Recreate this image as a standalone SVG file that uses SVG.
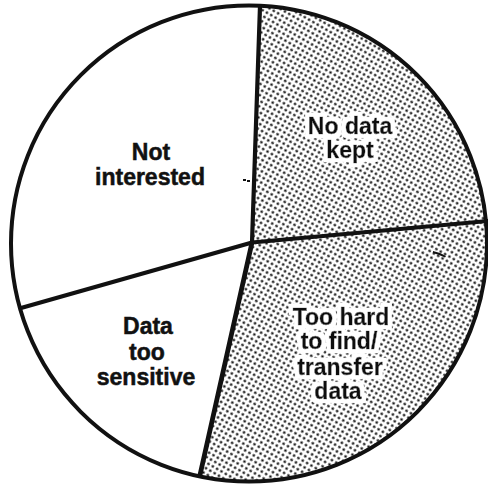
<svg xmlns="http://www.w3.org/2000/svg" width="488" height="485" viewBox="0 0 488 485">
  <defs>
    <pattern id="dots" width="5" height="5" patternUnits="userSpaceOnUse" patternTransform="rotate(30)">
      <rect width="5" height="5" fill="#fff"/>
      <circle cx="2.5" cy="2.5" r="1.3" fill="#111"/>
    </pattern>
    <filter id="halo" x="-15%" y="-40%" width="130%" height="180%">
      <feMorphology in="SourceAlpha" operator="dilate" radius="3.5" result="d"/>
      <feFlood flood-color="#fff"/>
      <feComposite in2="d" operator="in" result="w"/>
      <feMerge><feMergeNode in="w"/><feMergeNode in="SourceGraphic"/></feMerge>
    </filter>
    <style>
      .lbl { font-family: "Liberation Sans", Arial, sans-serif; font-weight: bold; font-size: 23px; fill: #111; text-anchor: middle; stroke: #111; stroke-width: 0.5; }
      .knock { filter: url(#halo); }
      .div { stroke: #111; stroke-width: 4.2; stroke-linecap: round; fill: none; }
      .rim { stroke: #111; stroke-width: 4; fill: none; }
    </style>
  </defs>
  <rect width="488" height="485" fill="#fff"/>

  <g id="slice-not-interested">
    <path d="M252,242.5 L20,308 A238,238 0 0,1 260,6 Z" fill="#fff"/>
    <text class="lbl" x="151" y="160">Not</text>
    <text class="lbl" x="150" y="185">interested</text>
  </g>

  <g id="slice-no-data-kept">
    <path d="M252,242.5 L260,6 A238,238 0 0,1 486,221 Z" fill="url(#dots)"/>
    <g class="knock">
      <text class="lbl" x="350" y="134">No data</text>
      <text class="lbl" x="350" y="158">kept</text>
    </g>
  </g>

  <g id="slice-too-hard">
    <path d="M252,242.5 L486,221 A238,238 0 0,1 200,476 Z" fill="url(#dots)"/>
    <g class="knock">
      <text class="lbl" x="341" y="325">Too hard</text>
      <text class="lbl" x="339" y="349">to find/</text>
      <text class="lbl" x="340" y="375">transfer</text>
      <text class="lbl" x="338" y="399">data</text>
    </g>
  </g>

  <g id="slice-data-too-sensitive">
    <path d="M252,242.5 L200,476 A238,238 0 0,1 20,308 Z" fill="#fff"/>
    <text class="lbl" x="148" y="334">Data</text>
    <text class="lbl" x="147" y="360">too</text>
    <text class="lbl" x="146" y="385">sensitive</text>
  </g>

  <g id="connectors">
    <line class="div" x1="252" y1="242.5" x2="260" y2="6"/>
    <line class="div" x1="252" y1="242.5" x2="488" y2="221"/>
    <line class="div" x1="252" y1="242.5" x2="21" y2="308"/>
    <line class="div" x1="252" y1="242.5" x2="200" y2="475" style="stroke-width:4.8"/>
    <circle class="rim" cx="249" cy="243.5" r="238"/>
  </g>

  <g id="marks" fill="#111">
    <rect x="243" y="179" width="3" height="2"/>
    <rect x="247" y="180" width="3" height="2"/>
    <path d="M433,251 L440,253 L446,256 L445,257.5 L439,255 L433,253 Z"/>
  </g>
</svg>
